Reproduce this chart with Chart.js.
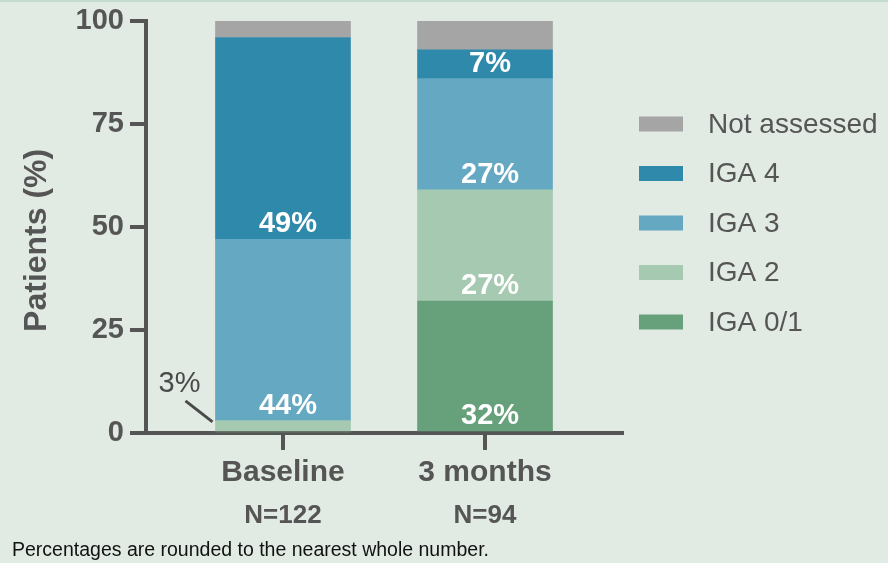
<!DOCTYPE html>
<html>
<head>
<meta charset="utf-8">
<script src="https://cdn.jsdelivr.net/npm/chart.js@4.4.1/dist/chart.umd.min.js"></script>
<style>
  html, body { margin: 0; padding: 0; }
  body { width: 888px; height: 563px; background: #e1ebe4; position: relative; overflow: hidden; font-family: "Liberation Sans", Arial, sans-serif; }
  .topline { position: absolute; left: 0; top: 0; width: 888px; height: 2px; background: #c3dccd; }
  #chart { position: absolute; left: 0; top: 0; }
  .note { position: absolute; left: 12px; top: 540px; font-size: 19.5px; line-height: 1; color: #111; white-space: nowrap; }
</style>
</head>
<body>
<div class="topline"></div>
<canvas id="chart" width="888" height="563"></canvas>
<div class="note">Percentages are rounded to the nearest whole number.</div>
<script>
// Data
const categories = ['Baseline', '3 months'];
const sampleSizes = ['N=122', 'N=94'];
const seriesNames = ['IGA 0/1', 'IGA 2', 'IGA 3', 'IGA 4', 'Not assessed'];
const iga01 = [0, 32];
const iga2 = [3, 27];
const iga3 = [44, 27];
const iga4 = [49, 7];
const notAssessed = [4, 7];
const yTicks = [0, 25, 50, 75, 100];

const colors = ['#67a17b', '#a5c9b1', '#65a8c2', '#2f89aa', '#a5a5a5'];
const axisGrey = '#555555';
const FONT = '"Liberation Sans", Arial, sans-serif';

Chart.defaults.font.family = FONT;

const toPoints = arr => arr.map((v, i) => ({ x: i, y: v }));

// Percent labels inside the segments (small ones go outside with a leader line)
const barLabels = {
  id: 'barLabels',
  afterDatasetsDraw(chart) {
    const ctx = chart.ctx;
    ctx.save();
    ctx.textAlign = 'center';
    ctx.textBaseline = 'middle';
    chart.data.datasets.forEach((ds, di) => {
      if (ds.label === 'Not assessed') return;
      chart.getDatasetMeta(di).data.forEach((bar, i) => {
        const v = ds.data[i].y;
        if (!v) return;
        const txt = v + '%';
        if (v < 5) {
          const left = bar.x - bar.width / 2;
          const mid = (bar.y + bar.base) / 2;
          ctx.strokeStyle = '#4a4a4a';
          ctx.lineWidth = 3;
          ctx.beginPath();
          ctx.moveTo(left - 30, mid - 25);
          ctx.lineTo(left - 3, mid - 4);
          ctx.stroke();
          ctx.fillStyle = '#4a4a4a';
          ctx.font = '29px ' + FONT;
          ctx.fillText(txt, left - 36, mid - 42);
        } else {
          ctx.fillStyle = '#ffffff';
          ctx.font = 'bold 29px ' + FONT;
          ctx.fillText(txt, bar.x + 5, bar.base - 15);
        }
      });
    });
    ctx.restore();
  }
};

// N= line under the category names
const sampleLabels = {
  id: 'sampleLabels',
  afterDraw(chart) {
    const ctx = chart.ctx;
    const xs = chart.scales.x;
    ctx.save();
    ctx.fillStyle = axisGrey;
    ctx.font = 'bold 26px ' + FONT;
    ctx.textAlign = 'center';
    ctx.textBaseline = 'middle';
    sampleSizes.forEach((s, i) => {
      ctx.fillText(s, xs.getPixelForValue(i), chart.chartArea.bottom + 83);
    });
    ctx.restore();
  }
};

// Legend on the right, top item = top of the stack
const sideLegend = {
  id: 'sideLegend',
  afterDraw(chart) {
    const ctx = chart.ctx;
    const x0 = chart.chartArea.right + 17;
    let y = chart.chartArea.top + 103;
    ctx.save();
    ctx.font = '28px ' + FONT;
    ctx.textAlign = 'left';
    ctx.textBaseline = 'middle';
    chart.data.datasets.slice().reverse().forEach(ds => {
      ctx.fillStyle = ds.backgroundColor;
      ctx.fillRect(x0, y - 7.5, 44, 15);
      ctx.fillStyle = axisGrey;
      ctx.fillText(ds.label, x0 + 69, y + 1);
      y += 49.5;
    });
    ctx.restore();
  }
};

const seriesValues = [iga01, iga2, iga3, iga4, notAssessed];

new Chart(document.getElementById('chart'), {
  type: 'bar',
  data: {
    datasets: seriesNames.map((name, i) => ({
      label: name,
      data: toPoints(seriesValues[i]),
      backgroundColor: colors[i],
      borderWidth: 0,
      barThickness: 135
    }))
  },
  options: {
    responsive: false,
    animation: false,
    layout: { padding: { left: 18, top: 21, right: 266, bottom: 0 } },
    plugins: { legend: { display: false }, tooltip: { enabled: false } },
    scales: {
      x: {
        type: 'linear',
        stacked: true,
        min: -0.678,
        max: 1.678,
        offset: false,
        afterBuildTicks: s => { s.ticks = categories.map((c, i) => ({ value: i })); },
        afterFit: s => { s.height = 130; },
        grid: { offset: false, drawOnChartArea: false, color: axisGrey, lineWidth: 4, tickLength: 17 },
        border: { color: axisGrey, width: 4 },
        ticks: {
          callback: (v, i) => categories[i],
          font: { size: 30, weight: 'bold' },
          color: axisGrey,
          padding: 5,
          maxRotation: 0,
          autoSkip: false
        }
      },
      y: {
        stacked: true,
        min: 0,
        max: 100,
        afterBuildTicks: s => { s.ticks = yTicks.map(v => ({ value: v })); },
        afterFit: s => { s.width = 128; },
        grid: { drawOnChartArea: false, color: axisGrey, lineWidth: 4, tickLength: 16 },
        border: { color: axisGrey, width: 4 },
        ticks: { font: { size: 29, weight: 'bold', lineHeight: 1 }, color: axisGrey, padding: 6 },
        title: { display: true, text: 'Patients (%)   ', font: { size: 32, weight: 'bold' }, color: axisGrey, padding: 0 }
      }
    }
  },
  plugins: [barLabels, sampleLabels, sideLegend]
});
</script>
</body>
</html>
